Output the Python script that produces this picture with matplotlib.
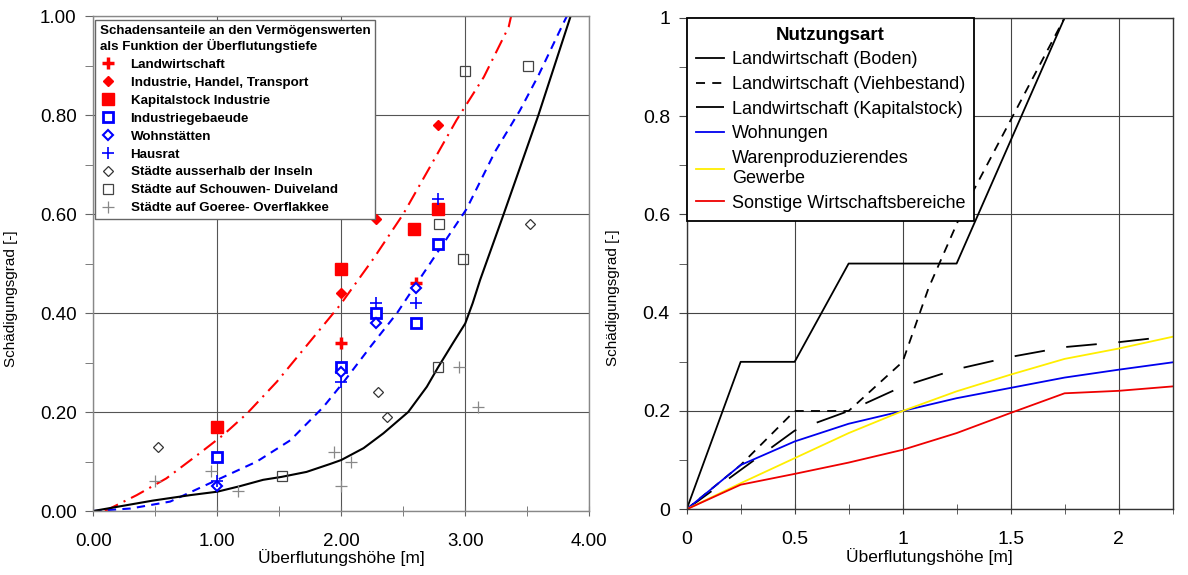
import numpy as np
import matplotlib
matplotlib.use('Agg')
import matplotlib.pyplot as plt
import matplotlib.ticker as mtick

plt.rcParams['font.family'] = ['Liberation Sans', 'DejaVu Sans']

# ---------------- left chart data ----------------
# observed points (x = depth [m], y = damage ratio)
landw_x = [2.00, 2.60]
landw_y = [0.34, 0.46]
ind_x = [2.00, 2.28, 2.78]
ind_y = [0.44, 0.59, 0.78]
kap_x = [1.00, 2.00, 2.59, 2.78]
kap_y = [0.17, 0.49, 0.57, 0.61]
indgeb_x = [1.00, 2.00, 2.28, 2.60, 2.78]
indgeb_y = [0.11, 0.29, 0.40, 0.38, 0.54]
wohn_x = [1.00, 2.00, 2.28, 2.60]
wohn_y = [0.05, 0.28, 0.38, 0.45]
hausrat_x = [1.00, 2.00, 2.28, 2.60, 2.78]
hausrat_y = [0.06, 0.26, 0.42, 0.42, 0.63]
ausser_x = [0.52, 2.30, 2.37, 3.52]
ausser_y = [0.13, 0.24, 0.19, 0.58]
schouwen_x = [1.52, 2.78, 2.98, 2.79, 3.00, 3.51]
schouwen_y = [0.07, 0.29, 0.51, 0.58, 0.89, 0.90]
goeree_x = [0.50, 0.95, 1.17, 1.94, 2.00, 2.08, 2.95, 3.10]
goeree_y = [0.06, 0.08, 0.04, 0.12, 0.05, 0.10, 0.29, 0.21]

# fitted curves
red_curve_x = [0.094, 0.35, 0.59, 0.86, 1.05, 1.24, 1.48, 1.99, 2.26, 2.50, 2.93, 3.15, 3.35, 3.37]
red_curve_y = [0.000, 0.032, 0.066, 0.117, 0.154, 0.197, 0.261, 0.416, 0.51, 0.60, 0.79, 0.877, 0.978, 1.00]
blue_curve_x = [0.00, 0.30, 0.62, 1.00, 1.32, 1.59, 1.855, 2.02, 2.245, 2.45, 2.59, 3.01, 3.24, 3.44, 3.59, 3.79, 3.82]
blue_curve_y = [0.00, 0.005, 0.019, 0.063, 0.10, 0.143, 0.21, 0.261, 0.335, 0.40, 0.453, 0.61, 0.726, 0.809, 0.88, 0.985, 1.00]
black_curve_x = [0.00, 0.48, 0.78, 1.00, 1.18, 1.37, 1.52, 1.72, 1.91, 2.00, 2.18, 2.34, 2.54, 2.69,
                 2.78, 2.90, 3.00, 3.06, 3.12, 3.31, 3.59, 3.85]
black_curve_y = [0.00, 0.021, 0.032, 0.039, 0.05, 0.063, 0.069, 0.079, 0.095, 0.103, 0.127, 0.157, 0.20, 0.251,
                 0.29, 0.339, 0.379, 0.42, 0.467, 0.60, 0.80, 1.00]

# ---------------- right chart data ----------------
boden_x = [0, 0.25, 0.5, 0.75, 1.25, 1.75]
boden_y = [0, 0.30, 0.30, 0.50, 0.50, 1.00]
vieh_x = [0, 0.25, 0.5, 0.75, 1.0, 1.12, 1.27, 1.51, 1.75]
vieh_y = [0, 0.09, 0.20, 0.20, 0.30, 0.45, 0.60, 0.80, 1.00]
kapital_x = [0, 0.25, 0.5, 0.75, 1.0, 1.25, 1.5, 1.75, 2.0, 2.2]
kapital_y = [0, 0.08, 0.16, 0.20, 0.25, 0.285, 0.31, 0.33, 0.34, 0.35]
whg_x = [0, 0.25, 0.5, 0.75, 1.0, 1.25, 1.5, 1.75, 2.0, 2.25]
whg_y = [0, 0.09, 0.138, 0.174, 0.20, 0.226, 0.247, 0.268, 0.284, 0.299]
waren_y = [0, 0.053, 0.104, 0.155, 0.20, 0.24, 0.274, 0.306, 0.327, 0.351]
sonst_y = [0, 0.05, 0.072, 0.095, 0.121, 0.155, 0.196, 0.236, 0.241, 0.25]

fig = plt.figure(figsize=(11.88, 5.75), dpi=100)

# ================= left =================
ax = fig.add_axes([0.0785, 0.1113, 0.4175, 0.8607])
ax.set_xlim(0, 4)
ax.set_ylim(0, 1)
ax.xaxis.set_major_locator(mtick.MultipleLocator(1))
ax.xaxis.set_minor_locator(mtick.MultipleLocator(0.5))
ax.yaxis.set_major_locator(mtick.MultipleLocator(0.2))
ax.yaxis.set_minor_locator(mtick.MultipleLocator(0.1))
ax.xaxis.set_major_formatter(mtick.FormatStrFormatter('%.2f'))
ax.yaxis.set_major_formatter(mtick.FormatStrFormatter('%.2f'))
ax.grid(True, which='major', color='#555555', linewidth=0.8)
ax.tick_params(which='both', direction='out', length=6, color='#666666', labelsize=13.5, pad=6)
ax.tick_params(axis='x', which='both', direction='inout', length=7, pad=12)
for s in ax.spines.values():
    s.set_color('#888888')
    s.set_linewidth(1.0)

ax.plot(red_curve_x, red_curve_y, color='red', lw=1.5, dashes=(7, 3, 1, 3))
ax.plot(blue_curve_x, blue_curve_y, color='blue', lw=1.5, dashes=(4, 3))
ax.plot(black_curve_x, black_curve_y, color='black', lw=1.5, solid_joinstyle='round')

h = []
h.append(ax.plot(landw_x, landw_y, ls='none', marker='+', ms=9, mew=2.5, color='red',
                 label='Landwirtschaft')[0])
h.append(ax.plot(ind_x, ind_y, ls='none', marker='D', ms=5.5, color='red',
                 label='Industrie, Handel, Transport')[0])
h.append(ax.plot(kap_x, kap_y, ls='none', marker='s', ms=8.5, color='red',
                 label='Kapitalstock Industrie')[0])
h.append(ax.plot(indgeb_x, indgeb_y, ls='none', marker='s', ms=6.5, mew=2, mfc='white', mec='blue',
                 label='Industriegebaeude')[0])
h.append(ax.plot(wohn_x, wohn_y, ls='none', marker='D', ms=5, mew=1.5, mfc='white', mec='blue',
                 label='Wohnstätten')[0])
h.append(ax.plot(hausrat_x, hausrat_y, ls='none', marker='+', ms=9, mew=1.2, color='blue',
                 label='Hausrat')[0])
h.append(ax.plot(ausser_x, ausser_y, ls='none', marker='D', ms=5.5, mew=0.9, mfc='white', mec='#333333',
                 label='Städte ausserhalb der Inseln')[0])
h.append(ax.plot(schouwen_x, schouwen_y, ls='none', marker='s', ms=7.5, mew=0.9, mfc='none', mec='#444444',
                 label='Städte auf Schouwen- Duiveland')[0])
h.append(ax.plot(goeree_x, goeree_y, ls='none', marker='+', ms=9, mew=0.9, color='#888888',
                 label='Städte auf Goeree- Overflakkee')[0])

leg = ax.legend(handles=h, loc='upper left', bbox_to_anchor=(0.004, 0.992), borderaxespad=0,
                title='Schadensanteile an den Vermögenswerten\nals Funktion der Überflutungstiefe',
                title_fontproperties={'weight': 'bold', 'size': 9.6},
                prop={'weight': 'bold', 'size': 9.6}, alignment='left',
                frameon=True, fancybox=False, framealpha=1, edgecolor='#666666',
                handlelength=1.2, handletextpad=1.1, labelspacing=0.42, borderpad=0.35)
leg.get_frame().set_linewidth(1.0)

ax.set_xlabel('Überflutungshöhe [m]', fontsize=12.5, labelpad=0)
ax.set_ylabel('Schädigungsgrad [-]', fontsize=11)
ax.yaxis.set_label_coords(-0.151, 0.43)

# ================= right =================
ax2 = fig.add_axes([0.578, 0.1143, 0.409, 0.8547])
ax2.set_xlim(0, 2.25)
ax2.set_ylim(0, 1)
ax2.xaxis.set_major_locator(mtick.MultipleLocator(0.5))
ax2.xaxis.set_minor_locator(mtick.MultipleLocator(0.25))
ax2.yaxis.set_major_locator(mtick.MultipleLocator(0.2))
ax2.yaxis.set_minor_locator(mtick.MultipleLocator(0.1))
ax2.xaxis.set_major_formatter(mtick.FuncFormatter(lambda v, p: '%g' % v))
ax2.yaxis.set_major_formatter(mtick.FuncFormatter(lambda v, p: '%g' % v))
ax2.grid(True, which='major', color='#444444', linewidth=0.8)
ax2.tick_params(which='both', direction='out', length=6, color='#444444', labelsize=14, pad=6)
ax2.tick_params(axis='x', which='both', direction='inout', length=7, pad=12)
for s in ax2.spines.values():
    s.set_color('#333333')
    s.set_linewidth(1.0)

l1, = ax2.plot(boden_x, boden_y, color='black', lw=1.3, label='Landwirtschaft (Boden)')
l2, = ax2.plot(vieh_x, vieh_y, color='black', lw=1.3, dashes=(5, 4), label='Landwirtschaft (Viehbestand)')
l3, = ax2.plot(kapital_x, kapital_y, color='black', lw=1.3, dashes=(17, 12), label='Landwirtschaft (Kapitalstock)')
l4, = ax2.plot(whg_x, whg_y, color='#0000ee', lw=1.3, label='Wohnungen')
l5, = ax2.plot(whg_x, waren_y, color='#ffee00', lw=1.3, label='Warenproduzierendes\nGewerbe')
l6, = ax2.plot(whg_x, sonst_y, color='#ee0000', lw=1.3, label='Sonstige Wirtschaftsbereiche')

leg2 = ax2.legend(handles=[l1, l2, l3, l4, l5, l6], loc='upper left', bbox_to_anchor=(0.0, 1.0),
                  borderaxespad=0, title='Nutzungsart',
                  title_fontproperties={'weight': 'bold', 'size': 13.5},
                  prop={'size': 13}, frameon=True, fancybox=False, framealpha=1,
                  edgecolor='black', handlelength=1.55, handletextpad=0.45,
                  labelspacing=0.42, borderpad=0.5)
leg2.get_frame().set_linewidth(1.3)
leg2.get_texts()[4].set_linespacing(1.25)

ax2.set_xlabel('Überflutungshöhe [m]', fontsize=12.5, labelpad=0)
ax2.set_ylabel('Schädigungsgrad [-]', fontsize=11)
ax2.yaxis.set_label_coords(-0.138, 0.43)

fig.savefig('out.png', dpi=100)
